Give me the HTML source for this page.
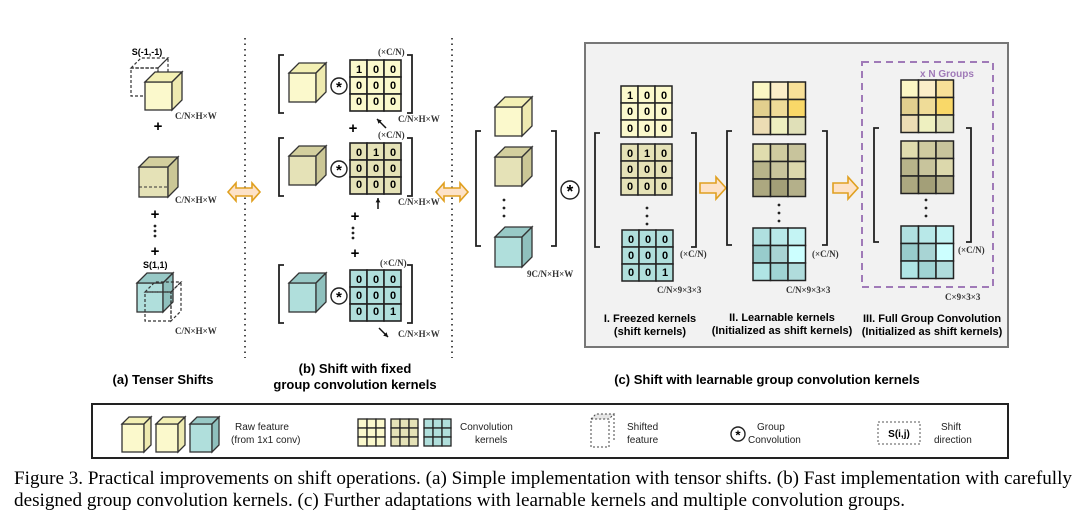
<!DOCTYPE html>
<html><head><meta charset="utf-8"><style>
body{margin:0;background:#fff}
svg{display:block}
text{font-family:"Liberation Sans",sans-serif}
.b{font-weight:bold}
.s{font-family:"Liberation Serif",serif;font-weight:bold;font-size:9px;fill:#333}
.d{font-weight:bold;font-size:11px;text-anchor:middle}
.l{font-weight:bold;font-size:11px;text-anchor:middle}
.g{font-size:10px;fill:#222}
.cap{font-family:"Liberation Serif",serif;font-size:19px}
</style></head><body>
<svg id="s" width="1080" height="521" viewBox="0 0 1080 521" xmlns="http://www.w3.org/2000/svg">
<rect x="585" y="43" width="423" height="304" fill="#f2f2f2" stroke="#777" stroke-width="2"/>
<rect x="92" y="404" width="916" height="54" fill="#fff" stroke="#222" stroke-width="2"/>
<line x1="245" y1="38" x2="245" y2="358" stroke="#222" stroke-width="1.6" stroke-dasharray="1.5 4"/>
<line x1="452" y1="38" x2="452" y2="358" stroke="#222" stroke-width="1.6" stroke-dasharray="1.5 4"/>
<rect x="862" y="62" width="131" height="225" fill="none" stroke="#a07ab8" stroke-width="2" stroke-dasharray="7 5"/>
<text x="947" y="77" font-size="10" fill="#a07ab8" class="b" text-anchor="middle">x N Groups</text>
<g id="shapes"></g>
<text x="147" y="55" class="b" font-size="9" text-anchor="middle">S(-1,-1)</text>
<text x="143" y="268" class="b" font-size="9">S(1,1)</text>
<text x="175" y="119" class="s">C/N×H×W</text>
<text x="175" y="203" class="s">C/N×H×W</text>
<text x="175" y="334" class="s">C/N×H×W</text>
<text x="158" y="131" class="b" font-size="15" text-anchor="middle">+</text>
<text x="155" y="219" class="b" font-size="15" text-anchor="middle">+</text>
<text x="155" y="256" class="b" font-size="15" text-anchor="middle">+</text>
<text x="378" y="55" class="s" font-weight="normal">(×C/N)</text>
<text x="378" y="138" class="s">(×C/N)</text>
<text x="380" y="266" class="s">(×C/N)</text>
<text x="398" y="122" class="s">C/N×H×W</text>
<text x="398" y="205" class="s">C/N×H×W</text>
<text x="398" y="337" class="s">C/N×H×W</text>
<text x="353" y="133" class="b" font-size="15" text-anchor="middle">+</text>
<text x="355" y="221" class="b" font-size="15" text-anchor="middle">+</text>
<text x="355" y="258" class="b" font-size="15" text-anchor="middle">+</text>
<g class="d">
<text x="359" y="73">1</text><text x="376" y="73">0</text><text x="393" y="73">0</text>
<text x="359" y="89">0</text><text x="376" y="89">0</text><text x="393" y="89">0</text>
<text x="359" y="105">0</text><text x="376" y="105">0</text><text x="393" y="105">0</text>
<text x="359" y="156">0</text><text x="376" y="156">1</text><text x="393" y="156">0</text>
<text x="359" y="172">0</text><text x="376" y="172">0</text><text x="393" y="172">0</text>
<text x="359" y="188">0</text><text x="376" y="188">0</text><text x="393" y="188">0</text>
<text x="359" y="283">0</text><text x="376" y="283">0</text><text x="393" y="283">0</text>
<text x="359" y="299">0</text><text x="376" y="299">0</text><text x="393" y="299">0</text>
<text x="359" y="315">0</text><text x="376" y="315">0</text><text x="393" y="315">1</text>
<text x="630" y="99">1</text><text x="647" y="99">0</text><text x="664" y="99">0</text>
<text x="630" y="115">0</text><text x="647" y="115">0</text><text x="664" y="115">0</text>
<text x="630" y="132">0</text><text x="647" y="132">0</text><text x="664" y="132">0</text>
<text x="630" y="157">0</text><text x="647" y="157">1</text><text x="664" y="157">0</text>
<text x="630" y="173">0</text><text x="647" y="173">0</text><text x="664" y="173">0</text>
<text x="630" y="190">0</text><text x="647" y="190">0</text><text x="664" y="190">0</text>
<text x="631" y="243">0</text><text x="648" y="243">0</text><text x="665" y="243">0</text>
<text x="631" y="259">0</text><text x="648" y="259">0</text><text x="665" y="259">0</text>
<text x="631" y="276">0</text><text x="648" y="276">0</text><text x="665" y="276">1</text>
</g>
<text x="527" y="277" class="s">9C/N×H×W</text>
<text x="680" y="257" class="s">(×C/N)</text>
<text x="812" y="257" class="s">(×C/N)</text>
<text x="958" y="253" class="s">(×C/N)</text>
<text x="657" y="293" class="s">C/N×9×3×3</text>
<text x="786" y="293" class="s">C/N×9×3×3</text>
<text x="945" y="300" class="s">C×9×3×3</text>
<text x="650" y="322" class="l">I. Freezed kernels</text>
<text x="650" y="335" class="l">(shift kernels)</text>
<text x="782" y="321" class="l">II. Learnable kernels</text>
<text x="782" y="334" class="l">(Initialized as shift kernels)</text>
<text x="932" y="322" class="l">III. Full Group Convolution</text>
<text x="932" y="335" class="l">(Initialized as shift kernels)</text>
<text x="163" y="384" class="b" font-size="13" text-anchor="middle">(a) Tenser Shifts</text>
<text x="355" y="373" class="b" font-size="13" text-anchor="middle">(b) Shift with fixed</text>
<text x="355" y="389" class="b" font-size="13" text-anchor="middle">group convolution kernels</text>
<text x="767" y="384" class="b" font-size="13" text-anchor="middle">(c) Shift with learnable group convolution kernels</text>
<text x="235" y="430" class="g">Raw feature</text><text x="231" y="443" class="g">(from 1x1 conv)</text>
<text x="460" y="430" class="g">Convolution</text><text x="475" y="443" class="g">kernels</text>
<text x="627" y="430" class="g">Shifted</text><text x="627" y="443" class="g">feature</text>
<text x="757" y="430" class="g">Group</text><text x="748" y="443" class="g">Convolution</text>
<rect x="878" y="422" width="42" height="22" fill="none" stroke="#555" stroke-dasharray="2 2"/>
<text x="899" y="437" class="b" font-size="10" text-anchor="middle">S(i,j)</text>
<text x="941" y="430" class="g">Shift</text><text x="934" y="443" class="g">direction</text>
<text x="14" y="484" class="cap" textLength="1058" lengthAdjust="spacingAndGlyphs">Figure 3. Practical improvements on shift operations. (a) Simple implementation with tensor shifts. (b) Fast implementation with carefully</text>
<text x="14" y="506" class="cap" textLength="891" lengthAdjust="spacingAndGlyphs">designed group convolution kernels. (c) Further adaptations with learnable kernels and multiple convolution groups.</text>
</svg>
<script>
var g=document.getElementById('shapes'),NS='http://www.w3.org/2000/svg';
function el(t,a){var e=document.createElementNS(NS,t);for(var k in a)e.setAttribute(k,a[k]);g.appendChild(e);return e;}
var Y=['#fbf9cc','#f3f0b4','#eeeab0'],O=['#e5e2b7','#d3cf9e','#cbc796'],T=['#b0dfdc','#98c9c6','#8fc0bd'];
function cube(x,y,w,h,d,c,dash){var st=dash?{fill:'none',stroke:'#333','stroke-dasharray':'3 2','stroke-width':1.2}:null;
var p1=x+','+y+' '+(x+d)+','+(y-d)+' '+(x+w+d)+','+(y-d)+' '+(x+w)+','+y;
var p2=(x+w)+','+y+' '+(x+w+d)+','+(y-d)+' '+(x+w+d)+','+(y+h-d)+' '+(x+w)+','+(y+h);
if(dash){el('polygon',Object.assign({points:p1},st));el('polygon',Object.assign({points:p2},st));el('rect',Object.assign({x:x,y:y,width:w,height:h},st));return;}
el('rect',{x:x,y:y,width:w,height:h,fill:c[0],stroke:'#333','stroke-width':1.3});
el('polygon',{points:p1,fill:c[1],stroke:'#333','stroke-width':1.3});
el('polygon',{points:p2,fill:c[2],stroke:'#333','stroke-width':1.3});}
function grid(x,y,s,cols,sw){for(var i=0;i<3;i++)for(var j=0;j<3;j++){var c=typeof cols==='string'?cols:cols[i*3+j];
el('rect',{x:x+j*s,y:y+i*s,width:s,height:s,fill:c,stroke:'#222','stroke-width':sw||1.5});}}
function br(x1,x2,y1,y2){el('path',{d:'M'+(x1+5)+' '+y1+'H'+x1+'V'+y2+'H'+(x1+5),fill:'none',stroke:'#222','stroke-width':1.8});
el('path',{d:'M'+(x2-5)+' '+y1+'H'+x2+'V'+y2+'H'+(x2-5),fill:'none',stroke:'#222','stroke-width':1.8});}
function conv(x,y,r){el('circle',{cx:x,cy:y,r:r,fill:'#fff',stroke:'#222','stroke-width':1.4});
var t=el('text',{x:x,y:y+r*0.75,'text-anchor':'middle','font-size':r*1.9,'font-weight':'bold'});t.textContent='*';}
function dots(x,y1,n,gap){for(var i=0;i<n;i++)el('circle',{cx:x,cy:y1+i*gap,r:1.4,fill:'#222'});}
function darr(x1,x2,y){var h=6,a=8;el('polygon',{points:x1+','+y+' '+(x1+a)+','+(y-h-3)+' '+(x1+a)+','+(y-h+2)+' '+(x2-a)+','+(y-h+2)+' '+(x2-a)+','+(y-h-3)+' '+x2+','+y+' '+(x2-a)+','+(y+h+3)+' '+(x2-a)+','+(y+h-2)+' '+(x1+a)+','+(y+h-2)+' '+(x1+a)+','+(y+h+3),fill:'#fde2c8',stroke:'#e0a020','stroke-width':1.6});}
function rarr(x1,x2,y){var a=10;el('polygon',{points:x1+','+(y-5)+' '+(x2-a)+','+(y-5)+' '+(x2-a)+','+(y-11)+' '+x2+','+y+' '+(x2-a)+','+(y+11)+' '+(x2-a)+','+(y+5)+' '+x1+','+(y+5),fill:'#fde2c8',stroke:'#e0a020','stroke-width':1.6});}
function arrow(x1,y1,x2,y2){el('line',{x1:x1,y1:y1,x2:x2,y2:y2,stroke:'#111','stroke-width':1.5});
var ang=Math.atan2(y2-y1,x2-x1),L=5;el('polygon',{points:x2+','+y2+' '+(x2-L*Math.cos(ang-0.5))+','+(y2-L*Math.sin(ang-0.5))+' '+(x2-L*Math.cos(ang+0.5))+','+(y2-L*Math.sin(ang+0.5)),fill:'#111'});}
cube(131,68,27,28,10,null,true);cube(145,82,27,28,10,Y);
el('polygon',{points:'142,167 152,157 178,157 168,167',fill:'#e6e6e6',stroke:'#333','stroke-dasharray':'3 2'});
cube(139,167,29,30,10,O);el('line',{x1:139,y1:187,x2:168,y2:187,stroke:'#333','stroke-dasharray':'3 2'});
cube(137,283,26,29,10,T);cube(145,292,26,29,10,null,true);
dots(155,226,3,5);
darr(228,260,192);darr(436,468,192);
var ys=[60,143,270],cs=[Y,O,T];
for(var k=0;k<3;k++){var y=ys[k];br(279,412,y-5,y+53);cube(289,y+13,27,29,10,cs[k]);conv(339,y+26,8);grid(350,y,17,cs[k][0],1.6);}
arrow(386,128,377,119);arrow(378,209,378,198);arrow(379,328,388,337);
dots(353,228,3,5);
cube(495,107,27,29,10,Y);cube(495,157,27,29,10,O);cube(495,237,27,30,10,T);
dots(504,200,3,8);br(476,556,131,246);conv(570,190,9);
br(595,696,133,247);grid(621,86,17,Y[0]);grid(621,144,17,O[0]);grid(622,230,17,T[0]);dots(647,208,3,8);
rarr(700,726,188);rarr(833,858,188);
var LY=['#fbf7c4','#fbedc8','#f8e098','#e2cf8e','#efdc98','#f9d868','#ecdcb4','#eef0c0','#e0e0b8'],
LO=['#e0dcae','#cfcba0','#c8c49c','#b8b48a','#c8c49c','#dcd8ac','#aca880','#a39f78','#b4b08a'],
LT=['#b0e0e0','#b8e8e8','#c4f4f4','#98cccc','#a8d4d4','#ccffff','#b0e4e4','#a0d4d4','#b0dcdc'];
br(727,827,131,245);grid(753,82,17.5,LY);grid(753,144,17.5,LO);grid(753,228,17.5,LT);dots(779,205,3,8);
br(874,971,128,242);grid(901,80,17.5,LY);grid(901,141,17.5,LO);grid(901,226,17.5,LT);dots(926,200,3,8);
cube(122,424,22,28,7,Y);cube(156,424,22,28,7,Y);cube(190,424,22,28,7,T);
function lg(x,c){for(var i=0;i<3;i++)for(var j=0;j<3;j++)el('rect',{x:x+j*9,y:419+i*9,width:9,height:9,fill:c,stroke:'#222','stroke-width':1.3});}
lg(358,Y[0]);lg(391,O[0]);lg(424,T[0]);
el('rect',{x:591,y:419,width:18,height:28,fill:'none',stroke:'#444','stroke-dasharray':'2 2'});
el('polygon',{points:'591,419 596,414 614,414 609,419',fill:'#e6e6e6',stroke:'#444','stroke-dasharray':'2 2'});
el('line',{x1:614,y1:414,x2:614,y2:442,stroke:'#444','stroke-dasharray':'2 2'});
conv(738,434,7);
</script>
</body></html>
